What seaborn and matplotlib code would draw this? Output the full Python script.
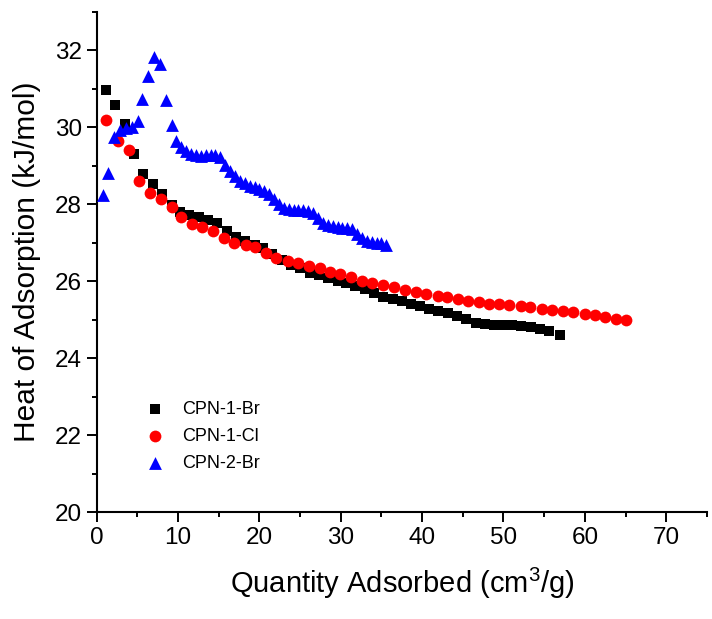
import matplotlib
matplotlib.use("Agg")
import matplotlib.pyplot as plt
import seaborn as sns
import pandas as pd
from matplotlib.ticker import MultipleLocator

# --- data ---
SERIES_NAMES = ["CPN-1-Br", "CPN-1-Cl", "CPN-2-Br"]

br1_x = [1.1, 2.3, 3.5, 4.6, 5.7, 6.9, 8.0, 9.2, 10.3, 11.4,
         12.6, 13.7, 14.8, 16.0, 17.1, 18.2, 19.4, 20.5, 21.6, 22.8,
         23.9, 25.0, 26.2, 27.3, 28.4, 29.6, 30.7, 31.8, 33.0, 34.1,
         35.2, 36.4, 37.5, 38.6, 39.8, 40.9, 42.0, 43.2, 44.3, 45.4,
         46.6, 47.7, 48.8, 50.0, 51.1, 52.2, 53.4, 54.5, 55.6, 57.0]
br1_y = [30.96, 30.57, 30.08, 29.30, 28.78, 28.52, 28.26, 27.98, 27.80, 27.72,
         27.66, 27.60, 27.52, 27.30, 27.15, 27.05, 26.95, 26.85, 26.70, 26.55,
         26.42, 26.33, 26.22, 26.15, 26.08, 26.00, 25.95, 25.88, 25.80, 25.70,
         25.60, 25.54, 25.48, 25.42, 25.35, 25.28, 25.22, 25.17, 25.10, 25.02,
         24.92, 24.88, 24.87, 24.86, 24.85, 24.83, 24.80, 24.76, 24.70, 24.60]

cl1_x = [1.2, 2.6, 4.0, 5.2, 6.5, 7.9, 9.2, 10.4, 11.7, 13.0,
         14.3, 15.6, 16.9, 18.3, 19.5, 20.8, 22.1, 23.5, 24.8, 26.1,
         27.4, 28.7, 29.9, 31.2, 32.6, 33.9, 35.2, 36.6, 37.9, 39.2,
         40.5, 41.9, 43.1, 44.4, 45.7, 47.0, 48.2, 49.5, 50.7, 52.1,
         53.3, 54.7, 56.0, 57.3, 58.6, 60.0, 61.3, 62.5, 63.8, 65.1]
cl1_y = [30.18, 29.64, 29.40, 28.61, 28.28, 28.14, 27.93, 27.66, 27.48, 27.41,
         27.30, 27.11, 27.00, 26.94, 26.88, 26.74, 26.59, 26.53, 26.48, 26.40,
         26.33, 26.24, 26.18, 26.10, 26.01, 25.96, 25.90, 25.84, 25.77, 25.73,
         25.67, 25.61, 25.58, 25.54, 25.49, 25.45, 25.42, 25.41, 25.38, 25.36,
         25.32, 25.28, 25.25, 25.23, 25.19, 25.16, 25.12, 25.08, 25.03, 24.99]

br2_x = [0.8, 1.4, 2.1, 2.9, 3.6, 4.3, 5.1, 5.6, 6.3, 7.0,
         7.8, 8.5, 9.2, 9.8, 10.4, 11.0, 11.6, 12.2, 12.8, 13.4,
         14.0, 14.6, 15.2, 15.8, 16.4, 17.0, 17.6, 18.2, 18.8, 19.4,
         20.0, 20.6, 21.2, 21.8, 22.4, 23.0, 23.6, 24.2, 24.8, 25.4,
         26.0, 26.6, 27.2, 27.8, 28.4, 29.0, 29.6, 30.2, 30.8, 31.4,
         32.0, 32.6, 33.2, 33.8, 34.4, 35.0, 35.6]
br2_y = [28.24, 28.80, 29.75, 29.92, 29.97, 30.01, 30.16, 30.74, 31.32, 31.82,
         31.65, 30.70, 30.05, 29.64, 29.49, 29.38, 29.30, 29.27, 29.26, 29.27,
         29.27, 29.28, 29.22, 29.02, 28.85, 28.72, 28.60, 28.55, 28.48, 28.44,
         28.40, 28.33, 28.25, 28.12, 28.00, 27.90, 27.87, 27.85, 27.85, 27.84,
         27.82, 27.78, 27.65, 27.52, 27.45, 27.42, 27.40, 27.38, 27.38, 27.35,
         27.22, 27.12, 27.05, 27.02, 27.00, 26.98, 26.94]

df = pd.concat([
    pd.DataFrame({"x": br1_x, "y": br1_y, "sample": SERIES_NAMES[0]}),
    pd.DataFrame({"x": cl1_x, "y": cl1_y, "sample": SERIES_NAMES[1]}),
    pd.DataFrame({"x": br2_x, "y": br2_y, "sample": SERIES_NAMES[2]}),
], ignore_index=True)

sns.set_theme(style="ticks")
plt.rcParams["font.family"] = ["Liberation Sans", "DejaVu Sans"]
plt.rcParams["mathtext.default"] = "regular"
plt.rcParams["text.color"] = "black"
plt.rcParams["axes.labelcolor"] = "black"

fig = plt.figure(figsize=(7.12, 6.19), dpi=100)
ax = fig.add_axes([0.1358, 0.1724, 0.857, 0.809])

colors = {"CPN-1-Br": "#000000", "CPN-1-Cl": "#ff0000", "CPN-2-Br": "#0000ff"}
markers = {"CPN-1-Br": "s", "CPN-1-Cl": "o", "CPN-2-Br": "^"}
sizes = {"CPN-1-Br": 58, "CPN-1-Cl": 72, "CPN-2-Br": 85}

for name in SERIES_NAMES:
    sub = df[df["sample"] == name]
    sns.scatterplot(data=sub, x="x", y="y", color=colors[name], marker=markers[name],
                    s=sizes[name], linewidth=0, ax=ax, label=name, zorder=3)

ax.set_xlim(0, 75)
ax.set_ylim(20, 33)
ax.xaxis.set_major_locator(MultipleLocator(10))
ax.xaxis.set_minor_locator(MultipleLocator(5))
ax.yaxis.set_major_locator(MultipleLocator(2))
ax.yaxis.set_minor_locator(MultipleLocator(1))
ax.tick_params(which="major", direction="out", length=7, width=1.4, labelsize=17.5,
               colors="black", labelcolor="black")
ax.tick_params(which="minor", direction="out", length=3.5, width=1.4, colors="black")
for side in ["left", "bottom"]:
    ax.spines[side].set_linewidth(1.5)
    ax.spines[side].set_color("black")
sns.despine(ax=ax)

ax.set_xlabel("Quantity Adsorbed (cm$^3$/g)", fontsize=21, labelpad=12, color="black")
ax.set_ylabel("Heat of Adsorption (kJ/mol)", fontsize=21.5, labelpad=10, color="black")

leg = ax.legend(loc="upper left", bbox_to_anchor=(0.04, 0.255), frameon=False, fontsize=13,
                handletextpad=0.5, labelspacing=0.55, markerscale=1.0)
for t in leg.get_texts():
    t.set_color("black")

fig.savefig("out.png", dpi=100)
